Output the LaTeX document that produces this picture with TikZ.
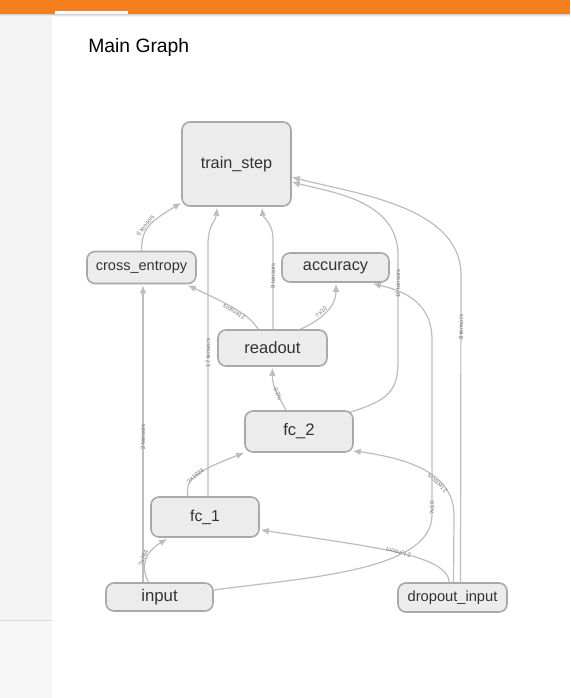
\documentclass[tikz,border=0pt]{standalone}
\usepackage{fontspec}
\setmainfont{Liberation Sans}
\usetikzlibrary{arrows.meta,calc}
\definecolor{barorange}{HTML}{F57F1F}
\definecolor{panelgray}{HTML}{F3F3F3}
\definecolor{panellow}{HTML}{F7F7F7}
\definecolor{panelline}{HTML}{DDDDDD}
\definecolor{nodefill}{HTML}{ECECEC}
\definecolor{nodeborder}{HTML}{A9A9A9}
\definecolor{edgegray}{HTML}{BDBDBD}
\definecolor{labelgray}{HTML}{7A7A7A}
\definecolor{textdark}{HTML}{333333}
\tikzset{
  opnode/.style={draw=nodeborder, line width=1.2pt, fill=nodefill, rounded corners=6pt,
    text=textdark, font=\fontsize{12.2}{13}\selectfont, inner sep=0pt},
  flow/.style={draw=edgegray, line width=0.9pt, -{Latex[length=6pt,width=5pt]}},
  elabel/.style={font=\fontsize{4.6}{5}\selectfont, text=labelgray, sloped, allow upside down, inner sep=0.4pt}
}
\begin{document}
\begin{tikzpicture}[x=0.75pt,y=-0.75pt]
\useasboundingbox (0,0) rectangle (570,698);
% background
\fill[white] (0,0) rectangle (570,698);
\fill[panelgray] (0,14) rectangle (52,620);
\fill[panellow] (0,620) rectangle (52,698);
\draw[panelline, line width=0.75pt] (0,620) -- (52,620);
% shadow under bar
\fill[black!18] (0,14) rectangle (570,15);
\fill[black!9] (0,15) rectangle (570,16);
\fill[black!4] (0,16) rectangle (570,17);
\fill[barorange] (0,0) rectangle (570,14);
\fill[white] (55,11.5) rectangle (128,14);
\node[anchor=base west, font=\fontsize{14.5}{16}\selectfont, text=black, inner sep=0pt] (title) at (88,53) {Main Graph};

% nodes
\node[opnode, minimum width=81.75pt, minimum height=63pt] (ts) at (236.5,164) {train\_step};
\node[opnode, minimum width=81.75pt, minimum height=24pt, font=\fontsize{10.9}{12}\selectfont] (ce) at (141.5,267.5) {cross\_entropy};
\node[opnode, minimum width=80.25pt, minimum height=21.75pt] (acc) at (335.5,267.5) {accuracy};
\node[opnode, minimum width=81.75pt, minimum height=27pt, font=\fontsize{12.4}{13}\selectfont] (ro) at (272.5,348) {readout};
\node[opnode, minimum width=81pt, minimum height=30.75pt, font=\fontsize{12.5}{13}\selectfont] (fc2) at (299,431.5) {fc\_2};
\node[opnode, minimum width=81pt, minimum height=30pt, font=\fontsize{11.8}{13}\selectfont] (fc1) at (205,517) {fc\_1};
\node[opnode, minimum width=80.25pt, minimum height=21pt, font=\fontsize{12.6}{13}\selectfont] (inp) at (159.5,597) {input};
\node[opnode, minimum width=81.75pt, minimum height=21.75pt, font=\fontsize{11}{12}\selectfont] (dro) at (452.5,597.5) {dropout\_input};

% edges
\draw[flow] (ce.north) .. controls (141.5,228) and (150,222) .. ($(ts.south west)+(0,-4)$)
  node[elabel, pos=0.45, above] {6 tensors};
\draw[flow] ($(fc1.north)+(3,0)$) -- (208,245) .. controls (208,225) and (216,220) .. ($(ts.south)+(-19.5,1)$);
\path ($(fc1.north)+(3,0)$) -- (208,245) node[elabel, pos=0.57] {17 tensors};
\draw[flow] ($(ro.north)+(0.5,0)$) -- (273,240) .. controls (273,222) and (263,218) .. ($(ts.south)+(25.5,1)$);
\path ($(ro.north)+(0.5,0)$) -- (273,240) node[elabel, pos=0.6] {9 tensors};
\draw[flow] ($(ro.north)+(-14.5,0)$) .. controls (250,315) and (230,305) .. ($(ce.south east)+(-9,1)$)
  node[elabel, pos=0.5, above] {2 tensors};
\draw[flow] ($(ro.north)+(28,0)$) .. controls (325,318) and (336,305) .. ($(acc.south)+(0.5,1)$)
  node[elabel, pos=0.4, above] {?x10};
\draw[flow] ($(fc2.north)+(-13,0)$) .. controls (281,400) and (272,388) .. ($(ro.south)+(0,1)$)
  node[elabel, pos=0.45] {?x10};
\draw[flow] ($(fc2.north east)+(-4,2)$) .. controls (390,400) and (398,390) .. (398,360) -- (398,255)
  .. controls (398,200) and (330,192) .. ($(ts.east)+(0,18)$);
\path (398,360) -- (398,255) node[elabel, pos=0.73] {16 tensors};
\draw[flow] ($(dro.north)+(8,0)$) -- (461,275) .. controls (461,205) and (350,193) .. ($(ts.east)+(0,13)$);
\path ($(dro.north)+(8,0)$) -- (461,275) node[elabel, pos=0.83] {8 tensors};
\draw[flow] ($(dro.north)+(1,0)$) -- (454,515) .. controls (454,472) and (405,458) .. ($(fc2.south east)+(-1,-2)$)
  node[elabel, pos=0.33, above] {2 tensors};
\draw[flow] ($(dro.north)+(-3,0)$) .. controls (446,555) and (380,548) .. ($(fc1.east)+(1,13)$)
  node[elabel, pos=0.5] {2 tensors};
\draw[flow] ($(inp.east)+(0,-7)$) .. controls (300,578) and (432,572) .. (432,515) -- (432,340)
  .. controls (432,300) and (400,290) .. ($(acc.south east)+(-17,1)$);
\path (432,515) -- (432,340) node[elabel, pos=0.04] {?x10};
\draw[flow] ($(inp.north)+(-16.5,0)$) -- ($(ce.south)+(1.5,1)$)
  node[elabel, pos=0.49] {2 tensors};
\draw[flow] ($(inp.north)+(-11,0)$) .. controls (140,566) and (145,552) .. ($(fc1.south west)+(17,1)$)
  node[elabel, pos=0.5, above] {?x784};
\draw[flow] ($(fc1.north)+(-17,0)$) .. controls (184,478) and (200,470) .. (fc2.south west)
  node[elabel, pos=0.45] {?x1024};
\end{tikzpicture}
\end{document}
